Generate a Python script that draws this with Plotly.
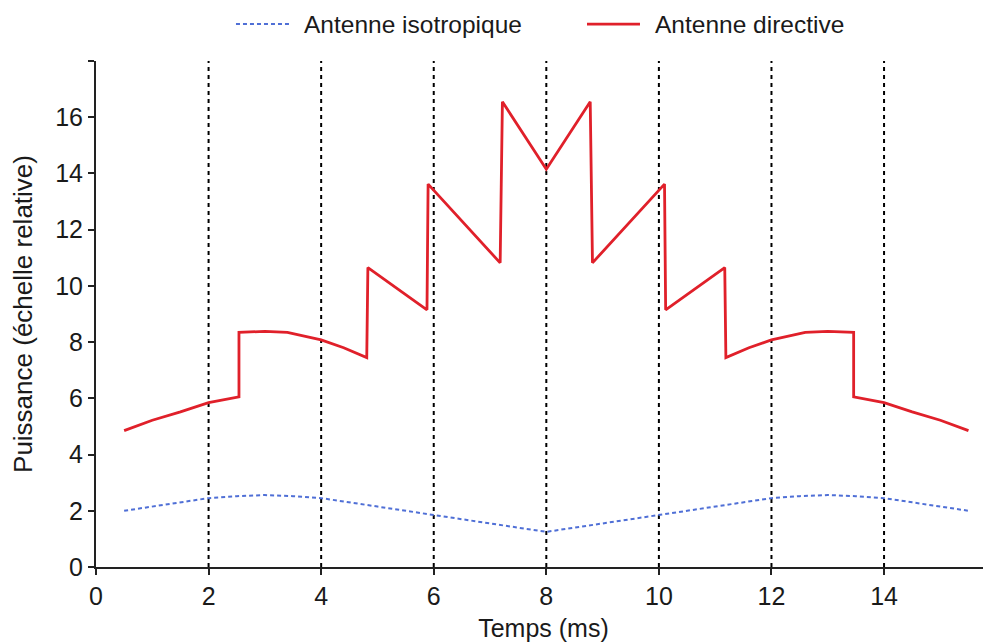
import plotly.graph_objects as go

# Data
t_dir = [0.5, 1.0, 1.5, 2.0, 2.54, 2.54, 3.0, 3.4, 4.0, 4.4, 4.81, 4.83, 5.88, 5.90, 7.18, 7.22, 8.0,
         8.78, 8.82, 10.10, 10.12, 11.17, 11.19, 11.6, 12.0, 12.6, 13.0, 13.46, 13.46, 14.0, 14.5, 15.0, 15.5]
p_dir = [4.85, 5.22, 5.52, 5.85, 6.05, 8.35, 8.38, 8.35, 8.08, 7.8, 7.45, 10.65, 9.15, 13.62, 10.82, 16.55, 14.15,
         16.55, 10.82, 13.62, 9.15, 10.65, 7.45, 7.8, 8.08, 8.35, 8.38, 8.35, 6.05, 5.85, 5.52, 5.22, 4.85]

t_iso = [0.5, 1.0, 1.5, 2.0, 2.5, 3.0, 3.5, 4.0, 5.0, 6.0, 7.0, 8.0,
         9.0, 10.0, 11.0, 12.0, 12.5, 13.0, 13.5, 14.0, 14.5, 15.0, 15.5]
p_iso = [2.0, 2.15, 2.3, 2.45, 2.52, 2.56, 2.52, 2.45, 2.15, 1.85, 1.55, 1.25,
         1.55, 1.85, 2.15, 2.45, 2.52, 2.56, 2.52, 2.45, 2.3, 2.15, 2.0]

x_ticks = [0, 2, 4, 6, 8, 10, 12, 14]
y_ticks = [0, 2, 4, 6, 8, 10, 12, 14, 16, 18]
y_labels = ["0", "2", "4", "6", "8", "10", "12", "14", "16", ""]
grid_times = [2, 4, 6, 8, 10, 12, 14]

series_names = ["Antenne isotropique", "Antenne directive"]
series_colors = ["#4f6fd6", "#e0202a"]
series_dash = ["4px,3px", "solid"]
series_width = [2, 2.8]

FONT = "Liberation Sans, Arial, sans-serif"

fig = go.Figure()
fig.add_trace(go.Scatter(x=t_iso, y=p_iso, mode="lines", name=series_names[0], showlegend=False,
                         line=dict(color=series_colors[0], width=series_width[0], dash=series_dash[0])))
fig.add_trace(go.Scatter(x=t_dir, y=p_dir, mode="lines", name=series_names[1], showlegend=False,
                         line=dict(color=series_colors[1], width=series_width[1], dash=series_dash[1])))

for gt in grid_times:
    fig.add_shape(type="line", xref="x", yref="y", x0=gt, x1=gt, y0=0, y1=18,
                  line=dict(color="black", width=2, dash="4px,4px"), layer="below")

# Custom legend (sample lines + labels) above the plot
legend_y = 1.073
legend_sample_x = [(0.1564, 0.2156), (0.5486, 0.6078)]
legend_text_x = [0.2302, 0.6223]
for i in range(2):
    x0, x1 = legend_sample_x[i]
    fig.add_shape(type="line", xref="paper", yref="paper", x0=x0, x1=x1, y0=legend_y, y1=legend_y,
                  line=dict(color=series_colors[i], width=series_width[i], dash=series_dash[i]))
    fig.add_annotation(xref="paper", yref="paper", x=legend_text_x[i], y=legend_y, text=series_names[i],
                       showarrow=False, xanchor="left", yanchor="middle", font=dict(size=24.5))

# The page adds an 8px body margin, so the figure is shrunk by 8px and margins shifted.
fig.update_layout(
    width=983, height=636,
    margin=dict(l=88, r=0, t=53, b=77, autoexpand=False),
    plot_bgcolor="white", paper_bgcolor="white",
    font=dict(family=FONT, size=25, color="#1a1a1a"),
    showlegend=False,
    xaxis=dict(range=[0, 15.9], tickvals=x_ticks, showline=True, linecolor="#222", linewidth=2,
               ticks="outside", ticklen=6, tickwidth=2, tickcolor="#222", showgrid=False, zeroline=False,
               automargin=False,
               title=dict(text="Temps (ms)", font=dict(size=25), standoff=10)),
    yaxis=dict(range=[0, 18], tickvals=y_ticks, ticktext=y_labels, showline=True, linecolor="#222",
               linewidth=2, ticks="outside", ticklen=6, tickwidth=2, tickcolor="#222", showgrid=False,
               zeroline=False, automargin=False,
               title=dict(text="Puissance (échelle relative)", font=dict(size=26), standoff=16)),
)

fig.write_html("out.html")
